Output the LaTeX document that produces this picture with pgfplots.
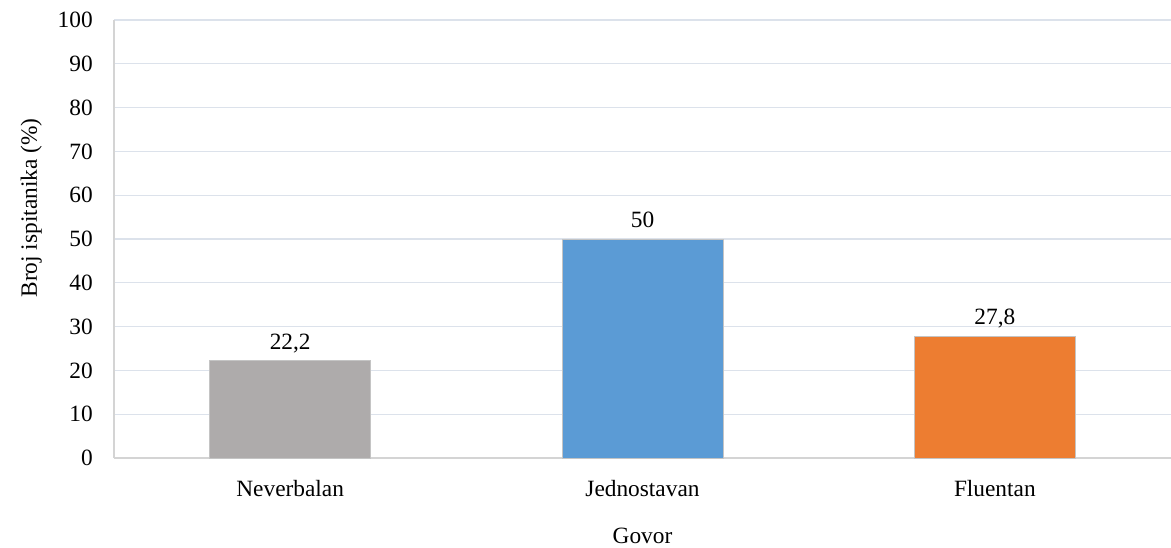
\documentclass[border=0pt]{standalone}
\usepackage{pgfplots}
\pgfplotsset{compat=1.18}
\usepackage{fontspec}
\setmainfont{Liberation Serif}

\definecolor{grayBar}{HTML}{AEABAB}
\definecolor{blueBar}{HTML}{5B9BD5}
\definecolor{orangeBar}{HTML}{ED7D31}
\definecolor{gridcol}{HTML}{DCE2EB}
\definecolor{axiscol}{HTML}{D4D4D4}
\definecolor{edgecol}{HTML}{C4C4C4}

\begin{document}
\fontsize{17.5pt}{21pt}\selectfont
\begin{tikzpicture}
\useasboundingbox (0,0) rectangle (878.25pt,410.25pt);
\begin{axis}[
    at={(85.5pt,66.75pt)}, anchor=south west,
    scale only axis,
    width=792.75pt, height=328.5pt,
    ybar, bar width=120.75pt, bar shift=0pt,
    xmin=-0.5, xmax=2.5,
    ymin=0, ymax=100,
    ytick={0,10,...,100},
    xtick={0,1,2},
    xticklabels={Neverbalan, Jednostavan, Fluentan},
    axis x line*=bottom, axis y line*=left,
    axis line style={draw=axiscol, line width=0.9pt, -},
    major tick length=0pt,
    ymajorgrids, grid style={draw=gridcol, line width=0.9pt},
    /pgf/number format/assume math mode=true,
    tick label style={font=\fontsize{17.5pt}{21pt}\selectfont},
    yticklabel style={anchor=east, inner sep=0pt, xshift=-15.75pt},
    xticklabel style={anchor=base, inner sep=0pt, yshift=-28.9pt},
    xlabel={Govor}, ylabel={Broj ispitanika (\%)},
    label style={font=\fontsize{17.5pt}{21pt}\selectfont},
    every axis x label/.style={at={(axis description cs:0.5,0)}, anchor=base, inner sep=0pt, yshift=-63.75pt},
    every axis y label/.style={at={(axis description cs:0,0.5)}, xshift=-57.75pt, yshift=23.25pt, rotate=90, anchor=base, inner sep=0pt},
    nodes near coords,
    nodes near coords style={anchor=base, inner sep=0pt, yshift=8.5pt, font=\fontsize{17.5pt}{21pt}\selectfont},
    /pgf/number format/.cd, use comma, fixed, precision=1,
]
\addplot[fill=grayBar, draw=edgecol, line width=0.6pt] coordinates {(0,22.2)};
\addplot[fill=blueBar, draw=edgecol, line width=0.6pt] coordinates {(1,50)};
\addplot[fill=orangeBar, draw=edgecol, line width=0.6pt] coordinates {(2,27.8)};
\end{axis}
\end{tikzpicture}
\end{document}
